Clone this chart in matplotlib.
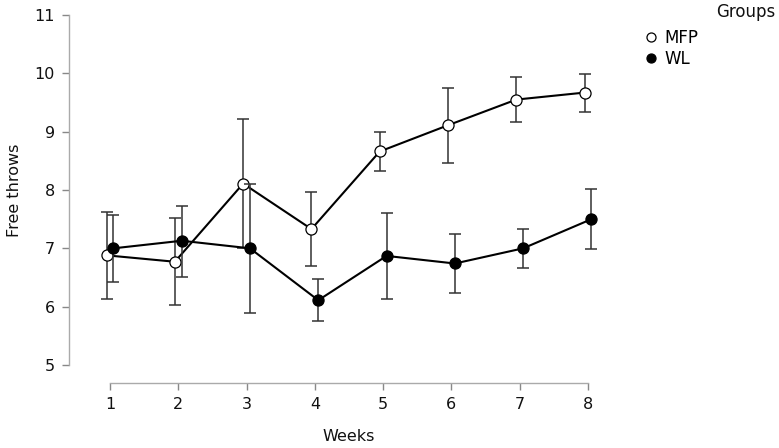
import matplotlib
matplotlib.use("Agg")
import matplotlib.pyplot as plt
from matplotlib.lines import Line2D
import numpy as np

weeks = [1, 2, 3, 4, 5, 6, 7, 8]
mfp_mean = [6.88, 6.77, 8.11, 7.33, 8.66, 9.11, 9.55, 9.67]
mfp_lo = [6.13, 6.02, 7.00, 6.70, 8.33, 8.47, 9.17, 9.34]
mfp_hi = [7.63, 7.52, 9.22, 7.96, 8.99, 9.75, 9.93, 9.99]
wl_mean = [7.00, 7.13, 7.00, 6.11, 6.87, 6.74, 7.00, 7.50]
wl_lo = [6.42, 6.51, 5.89, 5.75, 6.13, 6.23, 6.66, 6.98]
wl_hi = [7.57, 7.72, 8.10, 6.48, 7.60, 7.25, 7.33, 8.02]
yticks = [5, 6, 7, 8, 9, 10, 11]
groups = ["MFP", "WL"]

plt.rcParams['font.family'] = ['DejaVu Sans']

fig = plt.figure(figsize=(7.79, 4.48), dpi=100)
ax = fig.add_axes([69/779, 65/448, (610-69)/779, (383-15)/448])

dodge = 0.05
x = np.array(weeks, dtype=float)
series = [
    (x - dodge, mfp_mean, mfp_lo, mfp_hi, 'white'),
    (x + dodge, wl_mean, wl_lo, wl_hi, 'black'),
]
for z, (xs, m, lo, hi, fc) in enumerate(series):
    m = np.array(m); lo = np.array(lo); hi = np.array(hi)
    ax.errorbar(xs, m, yerr=[m - lo, hi - m], fmt='none', ecolor='#333333',
                elinewidth=1.1, capsize=4, capthick=1.1, zorder=2 + z * 3)
    ax.plot(xs, m, color='black', lw=1.5, zorder=3 + z * 3)
    ax.plot(xs, m, 'o', ms=8, mfc=fc, mec='black', mew=0.9, zorder=4 + z * 3)

ax.set_xlim(1 - 41/68.29, 8 + 22/68.29)
ax.set_ylim(5 - 18/58.33, 11)
ax.set_xticks(weeks)
ax.set_yticks(yticks)
for s in ['top', 'right']:
    ax.spines[s].set_visible(False)
for s in ['left', 'bottom']:
    ax.spines[s].set_color('#aaaaaa')
    ax.spines[s].set_linewidth(1.0)
ax.spines['left'].set_bounds(5, 11)
ax.spines['bottom'].set_bounds(1, 8)
ax.tick_params(axis='both', direction='out', length=5, width=1.0,
               color='#888888', labelsize=11.5, labelcolor='#111111', pad=5)

ax.set_xlabel('Weeks', fontsize=11.5, color='#111111')
ax.set_ylabel('Free throws', fontsize=11.5, color='#111111')
xl = ax.get_xlim(); yl = ax.get_ylim()
ax.xaxis.set_label_coords((4.5 - xl[0]) / (xl[1] - xl[0]), -0.125)
ax.yaxis.set_label_coords(-0.087, (8 - yl[0]) / (yl[1] - yl[0]))

handles = [Line2D([], [], ls='none', marker='o', ms=6.5, mfc='white', mec='black', mew=0.9),
           Line2D([], [], ls='none', marker='o', ms=6.5, mfc='black', mec='black', mew=0.9)]
fig.legend(handles, groups, loc='upper left', bbox_to_anchor=(644/779, 1 - 29/448),
           frameon=False, fontsize=12, handlelength=0.8, handletextpad=0.4,
           labelspacing=0.2, borderaxespad=0, borderpad=0)
fig.text(775/779, 1 - 12/448, 'Groups', ha='right', va='center', fontsize=12, color='#111111')

fig.savefig('out.png', dpi=100)
